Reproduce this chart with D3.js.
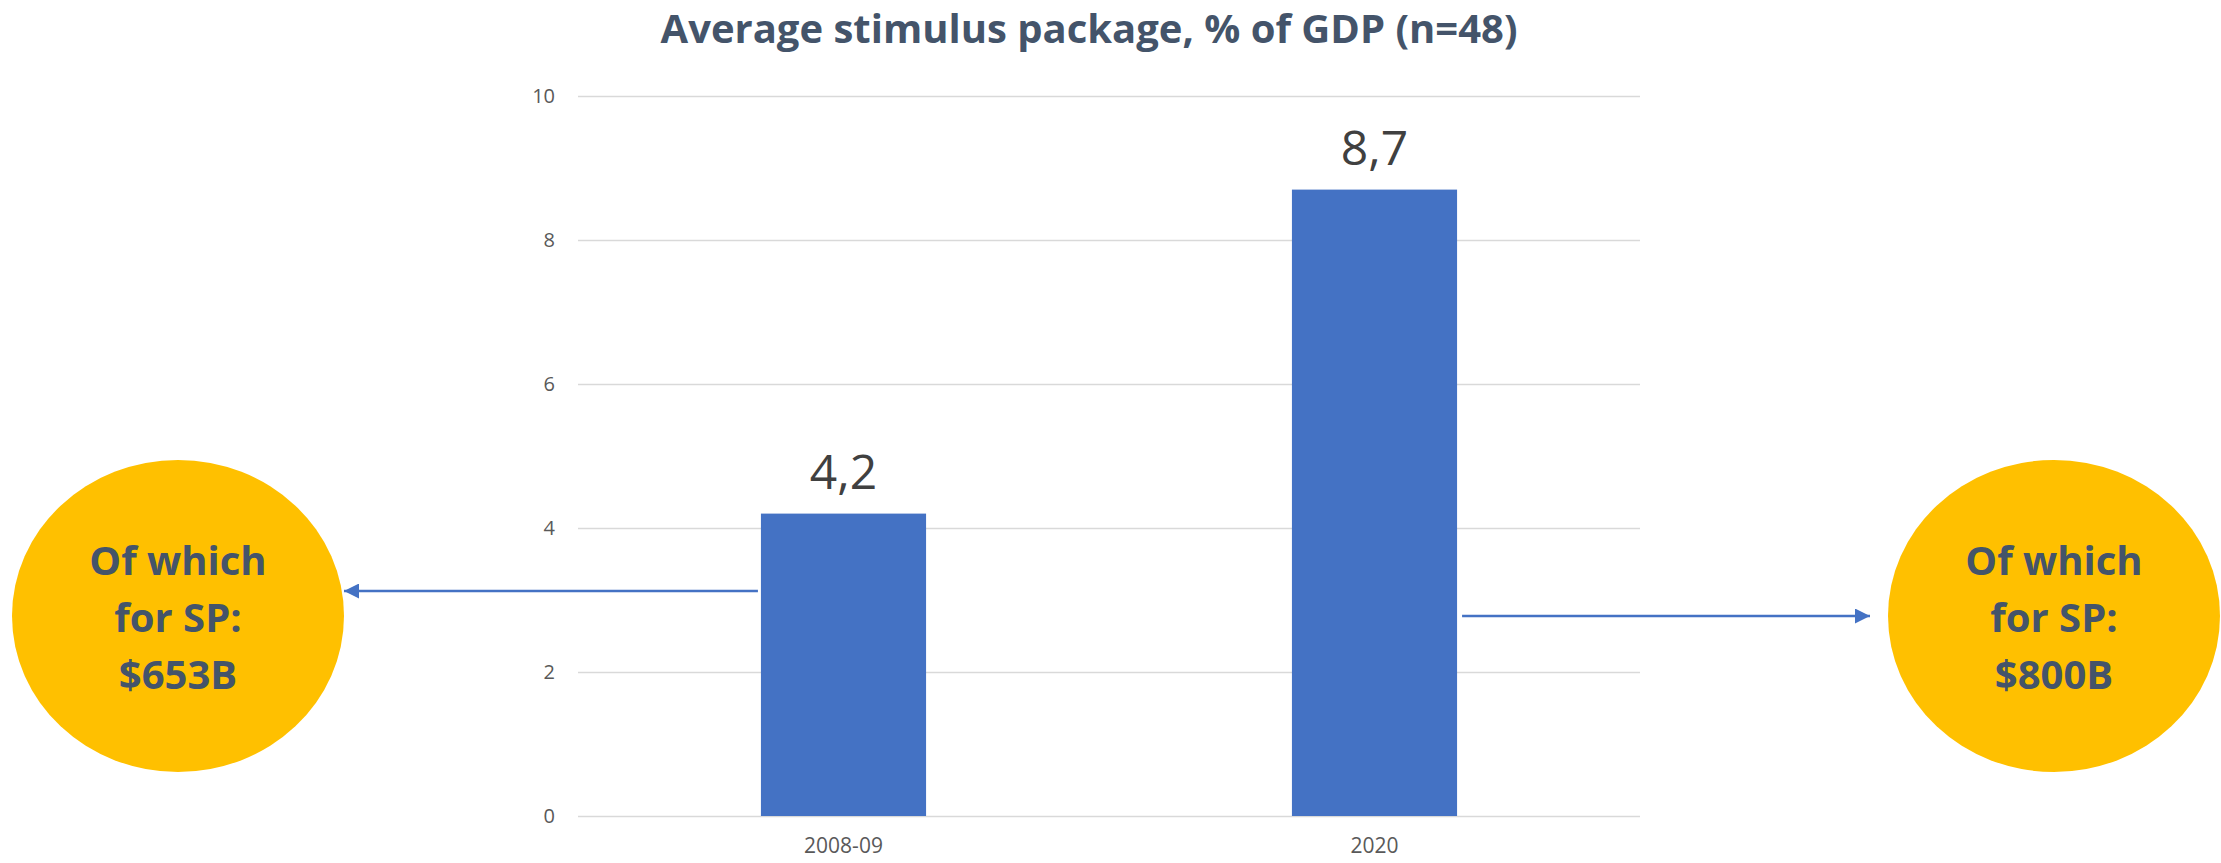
<!DOCTYPE html>
<html>
<head>
<meta charset="utf-8">
<script src="https://cdn.jsdelivr.net/npm/d3@7"></script>
<style>
  html, body { margin: 0; padding: 0; background: #fff; }
  svg { display: block; }
</style>
</head>
<body>
<svg id="chart" width="2221" height="863"></svg>
<script>
// Chart data
const categories = ["2008-09", "2020"];
const values = [4.2, 8.7];
const valueLabels = ["4,2", "8,7"];
const yTicks = [0, 2, 4, 6, 8, 10];
const title = "Average stimulus package, % of GDP (n=48)";
const calloutLines = [
  ["Of which", "for SP:", "$653B"],
  ["Of which", "for SP:", "$800B"]
];

const W = 2221, H = 863;
const plot = { left: 578, right: 1640, top: 96, bottom: 816 };

const svg = d3.select("#chart");

const x = d3.scaleBand()
  .domain(categories)
  .range([plot.left, plot.right])
  .paddingInner(0.689)
  .paddingOuter(0.689 / 2);

const y = d3.scaleLinear()
  .domain([0, 10])
  .range([plot.bottom, plot.top]);

// Horizontal gridlines with tick labels
const yAxis = d3.axisLeft(y)
  .tickValues(yTicks)
  .tickSize(-(plot.right - plot.left))
  .tickPadding(23)
  .tickFormat(d3.format("d"));

const gy = svg.append("g")
  .attr("transform", `translate(${plot.left},0)`)
  .call(yAxis);
gy.select(".domain").remove();
gy.selectAll(".tick line")
  .attr("stroke", "#D9D9D9")
  .attr("stroke-width", 1.6);
gy.selectAll(".tick text")
  .attr("fill", "#595959")
  .attr("font-family", "'Open Sans', sans-serif")
  .attr("font-size", 20);

// Category axis labels
const xAxis = d3.axisBottom(x).tickSize(0).tickPadding(22);
const gx = svg.append("g")
  .attr("transform", `translate(0,${plot.bottom})`)
  .call(xAxis);
gx.select(".domain").remove();
gx.selectAll(".tick text")
  .attr("fill", "#595959")
  .attr("font-family", "'Open Sans', sans-serif")
  .attr("font-size", 21);

// Bars
svg.append("g").selectAll("rect")
  .data(values)
  .join("rect")
  .attr("x", (d, i) => x(categories[i]))
  .attr("y", d => y(d))
  .attr("width", x.bandwidth())
  .attr("height", d => y(0) - y(d))
  .attr("fill", "#4472C4");

// Value labels above bars
svg.append("g").selectAll("text")
  .data(values)
  .join("text")
  .attr("x", (d, i) => x(categories[i]) + x.bandwidth() / 2)
  .attr("y", d => y(d) - 25)
  .attr("text-anchor", "middle")
  .attr("fill", "#404040")
  .attr("font-family", "'Open Sans', sans-serif")
  .attr("font-size", 48)
  .text((d, i) => valueLabels[i]);

// Title
svg.append("text")
  .attr("x", 1089)
  .attr("y", 43)
  .attr("text-anchor", "middle")
  .attr("fill", "#44546A")
  .attr("font-family", "'Open Sans', sans-serif")
  .attr("font-weight", 700)
  .attr("font-size", 40)
  .text(title);

// Arrow marker
const defs = svg.append("defs");
defs.append("marker")
  .attr("id", "arrowhead")
  .attr("viewBox", "0 0 10 10")
  .attr("refX", 10)
  .attr("refY", 5)
  .attr("markerUnits", "userSpaceOnUse")
  .attr("markerWidth", 16)
  .attr("markerHeight", 15)
  .attr("orient", "auto")
  .append("path")
  .attr("d", "M0,0 L10,5 L0,10 Z")
  .attr("fill", "#4472C4");

// Callout ellipses
const callouts = [
  { cx: 178, cy: 616, rx: 166, ry: 156 },
  { cx: 2054, cy: 616, rx: 166, ry: 156 }
];

svg.append("g").selectAll("ellipse")
  .data(callouts)
  .join("ellipse")
  .attr("cx", d => d.cx)
  .attr("cy", d => d.cy)
  .attr("rx", d => d.rx)
  .attr("ry", d => d.ry)
  .attr("fill", "#FFC000");

callouts.forEach((c, i) => {
  const t = svg.append("text")
    .attr("text-anchor", "middle")
    .attr("fill", "#44546A")
    .attr("font-family", "'Open Sans', sans-serif")
    .attr("font-weight", 700)
    .attr("font-size", 40);
  calloutLines[i].forEach((line, k) => {
    t.append("tspan")
      .attr("x", c.cx)
      .attr("y", c.cy - 41 + k * 57)
      .text(line);
  });
});

// Connector arrows from bars to callouts
const b0 = x(categories[0]);
const b1 = x(categories[1]) + x.bandwidth();
svg.append("line")
  .attr("x1", b0 - 3).attr("y1", 591)
  .attr("x2", callouts[0].cx + callouts[0].rx).attr("y2", 591)
  .attr("stroke", "#4472C4").attr("stroke-width", 2.5)
  .attr("marker-end", "url(#arrowhead)");
svg.append("line")
  .attr("x1", b1 + 5).attr("y1", 616)
  .attr("x2", 1870).attr("y2", 616)
  .attr("stroke", "#4472C4").attr("stroke-width", 2.5)
  .attr("marker-end", "url(#arrowhead)");
</script>
</body>
</html>
